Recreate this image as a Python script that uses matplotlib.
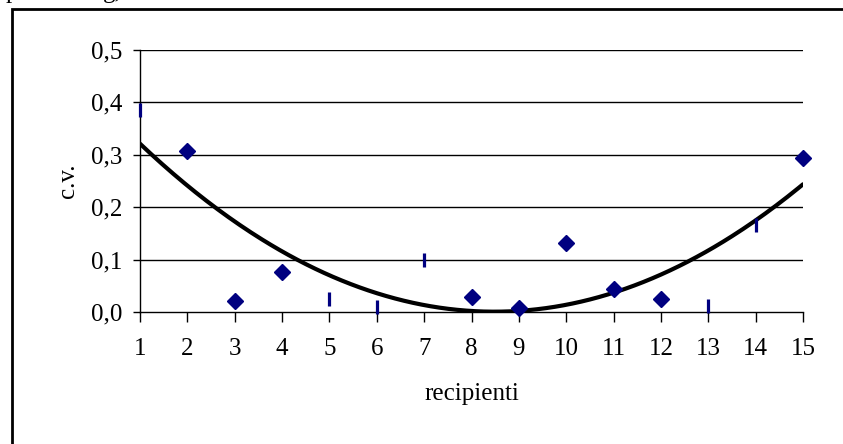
import numpy as np
import matplotlib.pyplot as plt
from matplotlib.patches import Rectangle

plt.rcParams["font.family"] = ["Liberation Serif", "DejaVu Serif"]

# recipients shown as diamonds and as short dashes
recipienti = np.arange(1, 16)
cv = np.array([0.386, 0.308, 0.021, 0.077, 0.024, 0.010, 0.100, 0.028,
               0.008, 0.132, 0.043, 0.024, 0.011, 0.166, 0.294])
dash_idx = [1, 5, 6, 7, 13, 14]
diamond_idx = [2, 3, 4, 8, 9, 10, 11, 12, 15]
y_ticks = [0.0, 0.1, 0.2, 0.3, 0.4, 0.5]
y_tick_labels = ["0,0", "0,1", "0,2", "0,3", "0,4", "0,5"]

W, H = 843, 444
fig = plt.figure(figsize=(W / 100, H / 100), dpi=100)
ax = fig.add_axes([140 / W, 1 - 312 / H, 663 / W, 262 / H])

# outer frame, cut by the right and bottom edges of the picture
fig.add_artist(Rectangle((12 / W, -0.2), 1.2, 1.2 - 9 / H,
                         transform=fig.transFigure, fill=False,
                         edgecolor="black", linewidth=2, clip_on=False))

# remnants of the text line above the frame (only descenders show)
fig.text(6 / W, 1 + 2 / H, "p", fontsize=18, va="baseline")
fig.text(103 / W, 1 + 2 / H, "g,", fontsize=18, va="baseline")

for yv in y_ticks[1:]:
    ax.axhline(yv, color="black", linewidth=1, zorder=1)

# second-order polynomial trendline
xs = np.linspace(1, 15, 300)
coef = np.polyfit(recipienti, cv, 2)
ax.plot(xs, np.polyval(coef, xs), color="black", linewidth=3,
        solid_capstyle="round", zorder=3)

sel = [i - 1 for i in diamond_idx]
ax.plot(recipienti[sel], cv[sel], linestyle="none", marker="D",
        markersize=8.5, color="#000080", zorder=4, clip_on=False)
sel = [i - 1 for i in dash_idx]
ax.plot(recipienti[sel], cv[sel], linestyle="none", marker="|",
        markersize=10, markeredgewidth=2.3, color="#000080", zorder=4,
        clip_on=False)

ax.set_xlim(1, 15)
ax.set_ylim(0, 0.5)
ax.set_xticks(recipienti)
ax.set_yticks(y_ticks)
ax.set_yticklabels(y_tick_labels)
ax.tick_params(axis="x", direction="out", length=7, width=1, pad=12,
               labelsize=18)
ax.tick_params(axis="y", direction="out", length=5, width=1, pad=8,
               labelsize=18)
for side in ["top", "right"]:
    ax.spines[side].set_visible(False)
for side in ["left", "bottom"]:
    ax.spines[side].set_linewidth(1)
    ax.spines[side].set_zorder(2)

ax.set_xlabel("recipienti", fontsize=18)
ax.xaxis.set_label_coords(0.5, -0.27)
ax.set_ylabel("c.v.", fontsize=18)
ax.yaxis.label.set_va("center")
ax.yaxis.set_label_coords(-0.109, 0.5)

fig.savefig("out.png", dpi=100)
